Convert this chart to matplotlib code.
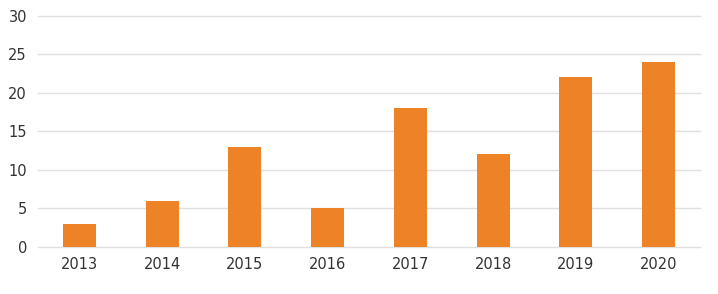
import numpy as np
from matplotlib import pyplot as plt

years = ['2013', '2014', '2015', '2016', '2017', '2018', '2019', '2020']
counts = [3, 6, 13, 5, 18, 12, 22, 24]
yticks = [0, 5, 10, 15, 20, 25, 30]

fig = plt.figure(figsize=(7.18, 2.94), dpi=100)
ax = fig.add_axes([0.053, 0.16, 0.922, 0.787])

x = np.arange(len(years))
ax.bar(x, counts, width=0.4, color='#ee8226', zorder=3)

ax.set_xlim(-0.5, len(years) - 0.5)
ax.set_ylim(0, 30)
ax.set_yticks(yticks)
ax.set_xticks(x)
ax.set_xticklabels(years)
ax.yaxis.grid(True, color='#e0e0e0', lw=1)
for gl in ax.yaxis.get_gridlines():
	gl.set_clip_on(False)
ax.set_axisbelow(True)
for s in ax.spines.values():
	s.set_visible(False)
ax.tick_params(length=0, labelsize=10.5, colors='#333333')
ax.tick_params(axis='y', pad=8)
ax.tick_params(axis='x', pad=7)

fig.savefig('out.png', dpi=100)
